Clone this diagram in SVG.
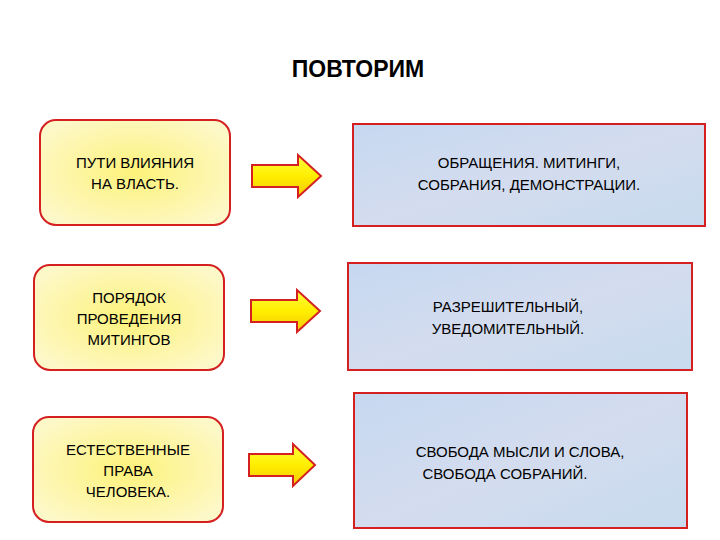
<svg xmlns="http://www.w3.org/2000/svg" width="720" height="540" viewBox="0 0 720 540">
<defs>
<radialGradient id="yg" cx="0.5" cy="0.5" r="0.6"><stop offset="0" stop-color="#fdf27a"/><stop offset="1" stop-color="#fdf8c8"/></radialGradient>
<linearGradient id="bg" x1="0" y1="0" x2="1" y2="1"><stop offset="0" stop-color="#c5d8f0"/><stop offset="0.5" stop-color="#d4dcef"/><stop offset="1" stop-color="#c8dbee"/></linearGradient>
<linearGradient id="ag" x1="0" y1="0" x2="0" y2="1"><stop offset="0" stop-color="#ffff40"/><stop offset="0.5" stop-color="#ffee00"/><stop offset="1" stop-color="#f5c800"/></linearGradient>
<style>
.l{fill:url(#yg);stroke:#d42020;stroke-width:2}
.r{fill:url(#bg);stroke:#d42020;stroke-width:2}
.a{fill:url(#ag);stroke:#d42020;stroke-width:2;stroke-linejoin:miter}
text{font-family:"Liberation Sans",Arial,sans-serif;font-size:15px;fill:#000;text-anchor:middle}
</style>
</defs>
<rect width="720" height="540" fill="#fff"/>
<text x="358" y="77" style="font-size:23px;font-weight:bold">ПОВТОРИМ</text>
<g id="n1"><rect class="l" x="40" y="120" width="190" height="105" rx="16"/><text x="135" y="168">ПУТИ ВЛИЯНИЯ</text><text x="135" y="189">НА ВЛАСТЬ.</text></g>
<g id="n2"><rect class="l" x="34" y="265" width="190" height="105" rx="16"/><text x="129" y="303">ПОРЯДОК</text><text x="129" y="324">ПРОВЕДЕНИЯ</text><text x="129" y="345">МИТИНГОВ</text></g>
<g id="n3"><rect class="l" x="33" y="417" width="190" height="105" rx="16"/><text x="128" y="455">ЕСТЕСТВЕННЫЕ</text><text x="128" y="476">ПРАВА</text><text x="128" y="497">ЧЕЛОВЕКА.</text></g>
<g id="r1"><rect class="r" x="353" y="124" width="352" height="102"/><text x="529" y="168">ОБРАЩЕНИЯ. МИТИНГИ,</text><text x="529" y="190">СОБРАНИЯ, ДЕМОНСТРАЦИИ.</text></g>
<g id="r2"><rect class="r" x="348" y="263" width="344" height="107"/><text x="508" y="312">РАЗРЕШИТЕЛЬНЫЙ,</text><text x="508" y="334">УВЕДОМИТЕЛЬНЫЙ.</text></g>
<g id="r3"><rect class="r" x="354" y="393" width="333" height="135"/><text x="520" y="457">СВОБОДА МЫСЛИ  И СЛОВА,</text><text x="505" y="479">СВОБОДА СОБРАНИЙ.</text></g>
<g id="connectors">
<path class="a" d="M252,165 H298 V155 L321,176 L298,197 V187 H252 Z"/>
<path class="a" d="M251,300 H297 V290 L320,311 L297,332 V322 H251 Z"/>
<path class="a" d="M249,454 H293 V444 L315,465 L293,486 V476 H249 Z"/>
</g>
</svg>
